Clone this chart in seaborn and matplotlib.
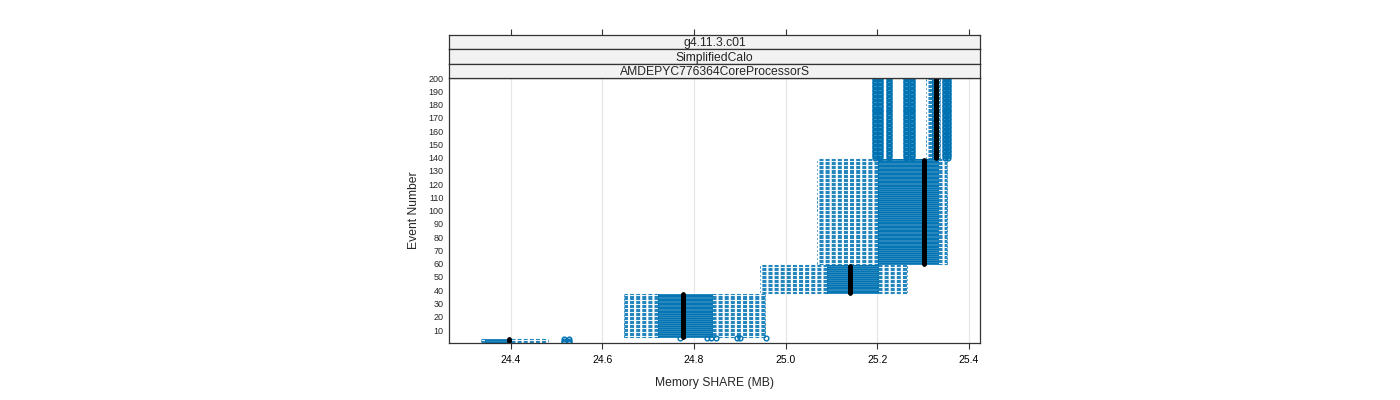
import pandas as pd
import matplotlib
matplotlib.use("Agg")
import matplotlib.pyplot as plt
import seaborn as sns

# Blocs d'événements (premier / dernier numéro) et statistiques
block_first = [1, 4, 5, 38, 60, 140]
block_last = [3, 4, 37, 59, 139, 200]
whisker_lo = [24.334, 24.775, 24.647, 24.944, 25.068, 25.306]
box_q1 = [24.343, 24.777, 24.721, 25.090, 25.201, 25.320]
box_median = [24.395, 24.779, 24.776, 25.140, 25.302, 25.328]
box_q3 = [24.400, 24.781, 24.839, 25.201, 25.332, 25.331]
whisker_hi = [24.480, 24.783, 24.955, 25.265, 25.352, 25.336]
outliers = [
    [24.515, 24.527],
    [24.770, 24.829, 24.836, 24.848, 24.894, 24.901, 24.957],
    [],
    [],
    [],
    [25.195, 25.206, 25.226, 25.262, 25.275, 25.348, 25.355],
]

strip_labels = ["g4.11.3.c01", "SimplifiedCalo", "AMDEPYC776364CoreProcessorS"]
x_ticks = [24.4, 24.6, 24.8, 25.0, 25.2, 25.4]
y_ticks = list(range(10, 201, 10))


def event_sample(lo, q1, med, q3, hi, out, half=20):
    # échantillon dont quartiles, moustaches et points isolés redonnent les valeurs lues
    low = sorted(v for v in out if v < med)
    high = sorted(v for v in out if v > med)
    return (low + [lo] + [q1] * (half - 1 - len(low)) + [med]
            + [q3] * (half - 1 - len(high)) + [hi] + high)


rows = []
for b in range(len(block_first)):
    vals = event_sample(whisker_lo[b], box_q1[b], box_median[b], box_q3[b],
                        whisker_hi[b], outliers[b])
    for ev in range(block_first[b], block_last[b] + 1):
        rows += [(ev, v) for v in vals]
df = pd.DataFrame(rows, columns=["event", "memory"])

# -----------------------------------------------------------
# GRÁFICO
# -----------------------------------------------------------
sns.set_style("white")
plt.rcParams["font.family"] = ["Liberation Sans", "DejaVu Sans"]

fig = plt.figure(figsize=(14, 4), dpi=100)
L, R = 449 / 1400, 980 / 1400
ax = fig.add_axes([L, 1 - 343 / 400, R - L, 265 / 400])

blue = "#0072b2"
sns.boxplot(
    data=df, x="memory", y="event", orient="y", native_scale=True,
    fill=False, color=blue, width=0.6, linewidth=0.6, whis=1.5, ax=ax,
    whiskerprops=dict(linestyle=(0, (3.6, 1.9)), linewidth=0.8, alpha=0.85),
    capprops=dict(linewidth=0.6, alpha=0.85),
    medianprops=dict(color="black", linewidth=3.5, solid_capstyle="round"),
    flierprops=dict(marker="o", markersize=3.4, markerfacecolor="none",
                    markeredgecolor=blue, markeredgewidth=1.0),
)

ax.set_xlim(24.265, 25.424)
ax.set_ylim(0.2, 200)
ax.set_xticks(x_ticks)
ax.set_xticklabels([f"{t:.1f}" for t in x_ticks])
ax.set_yticks(y_ticks)
ax.set_yticklabels([str(t) for t in y_ticks])
ax.grid(axis="x", color="#e6e6e6", lw=0.8)
ax.grid(axis="y", visible=False)
ax.set_axisbelow(True)
ax.tick_params(axis="x", direction="out", length=4.5, width=0.8,
               labelsize=7.5, pad=4, bottom=True, colors="#333333", labelcolor="black")
ax.tick_params(axis="y", length=0, labelsize=6.5, pad=4)
for s in ax.spines.values():
    s.set_color("#333333")
    s.set_linewidth(0.9)
ax.set_xlabel("Memory SHARE (MB)", fontsize=8.7, labelpad=9)
ax.set_ylabel("Event Number", fontsize=8.7, labelpad=6)

# Bandeaux (strips) au-dessus du panneau
strip_h = 43 / 3
for i, lab in enumerate(strip_labels):
    top_px = 35 + i * strip_h
    sax = fig.add_axes([L, 1 - (top_px + strip_h) / 400, R - L, strip_h / 400])
    sax.set_facecolor("#f2f2f2")
    sax.set_xlim(ax.get_xlim())
    sax.set_ylim(0, 1)
    sax.set_yticks([])
    for s in sax.spines.values():
        s.set_color("#333333")
        s.set_linewidth(0.9)
    sax.text(0.5, 0.42, lab, transform=sax.transAxes, ha="center", va="center",
             fontsize=8.7)
    if i == 0:
        sax.set_xticks(x_ticks)
        sax.tick_params(axis="x", top=True, bottom=False, labeltop=False,
                        labelbottom=False, direction="out", length=4.5,
                        width=0.8, colors="#333333")
    else:
        sax.set_xticks([])

fig.savefig("out.png", dpi=100)
